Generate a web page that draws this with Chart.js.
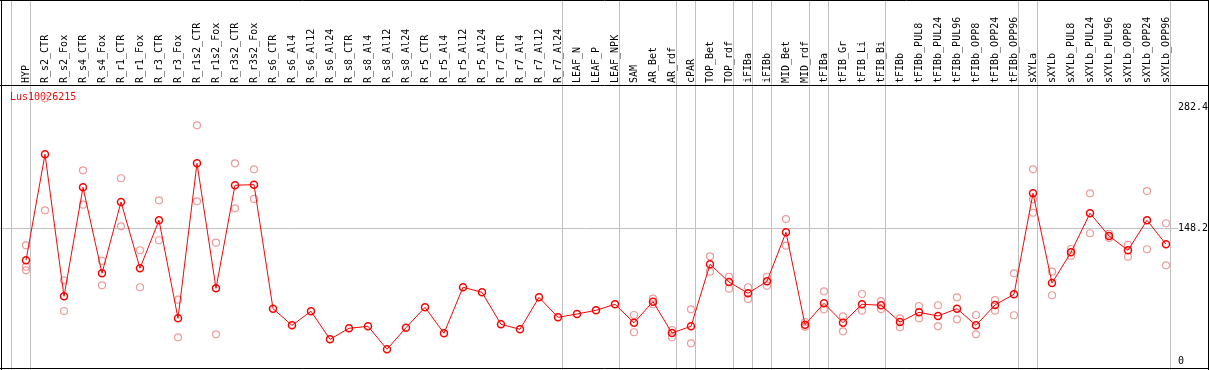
<!DOCTYPE html>
<html><head><meta charset="utf-8">
<script src="https://cdn.jsdelivr.net/npm/chart.js@4.4.1/dist/chart.umd.min.js"></script>
<style>html,body{margin:0;padding:0;background:#fff}canvas{display:block}</style>
</head><body>
<canvas id="c" width="1209" height="370"></canvas>
<script>
const categories = ['HYP','R_s2_CTR','R_s2_Fox','R_s4_CTR','R_s4_Fox','R_r1_CTR','R_r1_Fox','R_r3_CTR','R_r3_Fox','R_r1s2_CTR','R_r1s2_Fox','R_r3s2_CTR','R_r3s2_Fox','R_s6_CTR','R_s6_Al4','R_s6_Al12','R_s6_Al24','R_s8_CTR','R_s8_Al4','R_s8_Al12','R_s8_Al24','R_r5_CTR','R_r5_Al4','R_r5_Al12','R_r5_Al24','R_r7_CTR','R_r7_Al4','R_r7_Al12','R_r7_Al24','LEAF_N','LEAF_P','LEAF_NPK','SAM','AR_Bet','AR_rdf','cPAR','TOP_Bet','TOP_rdf','iFIBa','iFIBb','MID_Bet','MID_rdf','tFIBa','tFIB_Gr','tFIB_Li','tFIB_Bi','tFIBb','tFIBb_PUL8','tFIBb_PUL24','tFIBb_PUL96','tFIBb_OPP8','tFIBb_OPP24','tFIBb_OPP96','sXYLa','sXYLb','sXYLb_PUL8','sXYLb_PUL24','sXYLb_PUL96','sXYLb_OPP8','sXYLb_OPP24','sXYLb_OPP96'];

const meanValues = [112.7,230.4,72.6,193.7,98.2,177.4,103.8,157.1,48.2,220.4,81.5,196.0,196.7,58.9,40.4,56.0,24.9,37.1,39.3,13.8,37.8,60.4,31.6,82.7,77.1,41.5,36.0,71.5,49.3,53.0,57.1,63.8,43.3,66.7,31.9,39.3,108.2,88.5,76.0,89.3,143.8,41.1,64.9,43.3,63.8,62.7,44.1,54.9,50.8,58.9,40.4,63.0,74.9,187.1,87.4,121.5,164.9,139.7,123.8,157.1,130.4];

const repHigh = [129.3,292.6,90.4,212.6,111.9,203.8,123.8,179.3,68.9,262.6,132.2,220.4,213.7,null,null,null,null,null,null,null,null,null,null,null,null,null,null,null,null,null,null,null,51.9,70.0,35.2,58.2,117.1,94.4,82.7,94.4,158.5,44.1,78.2,50.4,75.2,67.4,48.2,61.9,62.7,71.5,51.9,68.5,98.2,213.7,100.0,125.2,187.1,141.9,129.7,189.6,153.8];

const repLow = [105.5,168.2,56.3,174.4,84.9,150.4,82.7,134.9,27.1,178.2,30.4,170.4,180.8,null,null,null,null,null,null,null,null,null,null,null,null,null,null,null,null,null,null,null,32.7,63.8,27.1,20.4,100.0,81.1,69.7,84.4,128.9,38.9,58.2,33.8,56.7,58.5,38.2,48.2,39.3,47.1,30.4,56.7,51.6,165.5,73.8,117.8,142.7,137.4,116.7,124.9,107.1];

const repExtra = {0: 101.5, 53: 180.4};

const groupEnds = [-1,0,28,31,34,35,37,38,39,41,42,45,52,53,60];
const yTickValues = [0,148.2,282.4];
const titleText = 'Lus10026215';

const SEP_OFFSET = 0.227;
const FONT = 'DejaVu Sans Mono';
const GRID = '#c0c0c0';

function pts(arr){ return arr.map((v,i)=>({x:i,y:v})).filter(p=>p.y!==null); }
const extraPts = Object.keys(repExtra).map(k=>({x:+k,y:repExtra[k]}));

const xTicks = categories.map((_,i)=>({value:i})).concat(groupEnds.map(g=>({value:g+SEP_OFFSET}))).sort((a,b)=>a.value-b.value);

const framePlugin = {
  id:'frame',
  beforeDatasetsDraw(chart){
    const c = chart.ctx;
    c.save();
    c.font = '10px "' + FONT + '"';
    c.fillStyle = '#ff0000';
    c.textBaseline = 'middle';
    c.textAlign = 'left';
    c.fillText(titleText, 10, 97);
    c.restore();
  },
  afterDraw(chart){
    const c = chart.ctx;
    const W = chart.width, H = chart.height;
    c.save();
    c.strokeStyle = '#000';
    c.lineWidth = 1;
    c.beginPath();
    c.moveTo(0, 0.5); c.lineTo(W, 0.5);
    c.moveTo(1.5, 0); c.lineTo(1.5, H);
    c.moveTo(W-0.5, 0); c.lineTo(W-0.5, H);
    c.moveTo(0, H-1.5); c.lineTo(W, H-1.5);
    c.moveTo(0, chart.chartArea.top-0.5); c.lineTo(W, chart.chartArea.top-0.5);
    c.stroke();
    c.restore();
  }
};

Chart.defaults.font.family = FONT;
Chart.defaults.font.size = 10;
Chart.defaults.color = '#000';

const repStyle = {
  showLine: false,
  pointRadius: 3.5,
  pointBorderWidth: 1.2,
  pointBorderColor: '#ee9a9a',
  pointBackgroundColor: 'rgba(0,0,0,0)',
  order: 1
};

new Chart(document.getElementById('c'), {
  type: 'line',
  data: {
    datasets: [
      {
        label: 'mean',
        data: pts(meanValues),
        borderColor: '#ff0000',
        borderWidth: 1,
        pointRadius: 3.5,
        pointBorderWidth: 1.5,
        pointBorderColor: '#ff0000',
        pointBackgroundColor: 'rgba(0,0,0,0)',
        tension: 0,
        order: 0
      },
      Object.assign({ label: 'rep1', data: pts(repHigh) }, repStyle),
      Object.assign({ label: 'rep2', data: pts(repLow) }, repStyle),
      Object.assign({ label: 'rep3', data: extraPts }, repStyle)
    ]
  },
  options: {
    responsive: false,
    animation: false,
    devicePixelRatio: 1,
    layout: { padding: 0, autoPadding: false },
    plugins: { legend: { display: false }, tooltip: { enabled: false } },
    scales: {
      x: {
        type: 'linear',
        position: 'top',
        min: -26/19,
        max: 1145/19,
        afterBuildTicks: (axis) => { axis.ticks = xTicks.map(t=>({value:t.value})); },
        afterFit: (axis) => { axis.height = 86; axis.paddingLeft = 0; axis.paddingRight = 0; },
        ticks: {
          autoSkip: false,
          maxRotation: 90,
          minRotation: 90,
          padding: -83,
          labelOffset: 12,
          font: { family: FONT, size: 10 },
          color: '#000',
          callback: (v) => Number.isInteger(v) ? categories[v] : ''
        },
        grid: {
          drawTicks: true,
          tickLength: 86,
          lineWidth: 1,
          color: (ctx) => (ctx.tick && !Number.isInteger(ctx.tick.value)) ? GRID : 'rgba(0,0,0,0)'
        },
        border: { display: false }
      },
      y: {
        type: 'linear',
        position: 'right',
        min: -(370-361.7)/(133.4/148.2),
        max: (361.7-86)/(133.4/148.2),
        afterBuildTicks: (axis) => { axis.ticks = yTickValues.map(v=>({value:v})); },
        afterFit: (axis) => { axis.width = 38; axis.paddingTop = 0; axis.paddingBottom = 0; },
        ticks: {
          padding: 0,
          font: { family: FONT, size: 10 },
          color: '#000',
          callback: (v) => String(v)
        },
        grid: {
          tickLength: 7,
          lineWidth: 1,
          color: (ctx) => (ctx.tick && ctx.tick.value === 148.2) ? GRID : 'rgba(0,0,0,0)'
        },
        border: { display: false }
      }
    }
  },
  plugins: [framePlugin]
});
</script>
</body></html>
